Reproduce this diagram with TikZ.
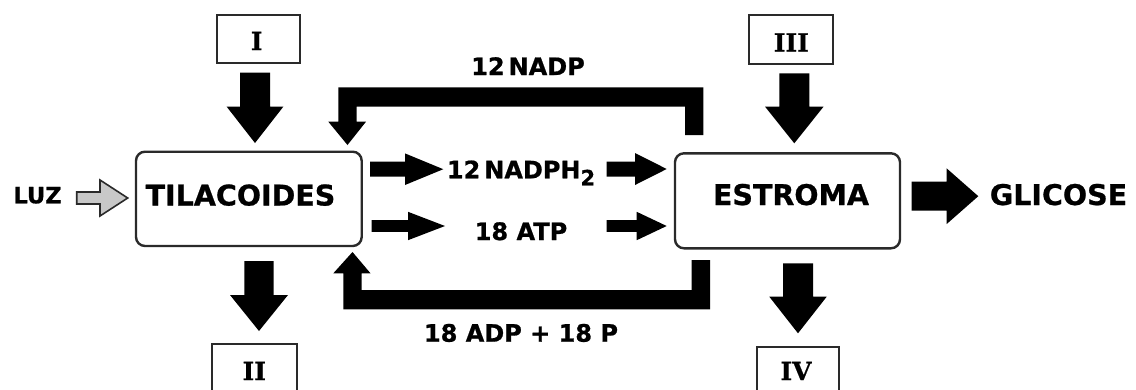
\documentclass[tikz,border=0pt]{standalone}
\usepackage{fontspec}
\setmainfont{DejaVu Sans}[BoldFeatures={FakeBold=0.8}]
\newfontfamily\numfont{DejaVu Serif}[BoldFeatures={FakeBold=0.6}]
\definecolor{boxline}{HTML}{2A2A2A}
\definecolor{luzgray}{HTML}{C8C8C8}
% right-pointing block arrow: x0, head base x, tip x, y centre, shaft half, head half
\newcommand\blkR[6]{\fill[blk] (#1,#4-#5) -- (#2,#4-#5) -- (#2,#4-#6) -- (#3,#4) -- (#2,#4+#6) -- (#2,#4+#5) -- (#1,#4+#5) -- cycle;}
% down-pointing block arrow: x centre, y0, head base y, tip y, shaft half, head half
\newcommand\blkD[6]{\fill[blk] (#1-#5,#2) -- (#1+#5,#2) -- (#1+#5,#3) -- (#1+#6,#3) -- (#1,#4) -- (#1-#6,#3) -- (#1-#5,#3) -- cycle;}
\begin{document}
\begin{tikzpicture}[x=1pt,y=-1pt,
  blk/.style={fill=black},
  lbl/.style={font=\bfseries\fontsize{24}{24}\selectfont, inner sep=0pt, anchor=base},
  big/.style={font=\bfseries\fontsize{28.5}{28.5}\selectfont, inner sep=0pt, anchor=base},
  roman/.style={font=\numfont\bfseries\fontsize{25}{25}\selectfont, inner sep=0pt, anchor=base},
  procbox/.style={draw=boxline, line width=2.4pt, rounded corners=9pt, inner sep=0pt},
  numbox/.style={draw=boxline, line width=2pt, inner sep=0pt}]
\useasboundingbox (0,0) rectangle (1136,389);
\clip (0,0) rectangle (1136,389);

% process boxes
\node[procbox, minimum width=225.7pt, minimum height=94.3pt] (til) at (248.85,198.85) {};
\node[procbox, minimum width=225pt, minimum height=95pt] (est) at (787.5,200.8) {};
\node[big] (tiltxt) at (240.5,205.5) {TILACOIDES};
\node[big] (esttxt) at (791,205) {ESTROMA};
\node[big] (gli) at (1058.5,205) {GLICOSE};

% roman numeral boxes
\node[numbox, minimum width=82.7pt, minimum height=48.3pt] (b1) at (258.65,39.15) {};
\node[numbox, minimum width=84pt, minimum height=49pt] (b3) at (791.3,39.5) {};
\node[numbox, minimum width=84.7pt, minimum height=70pt] (b2) at (254.3,379) {};
\node[numbox, minimum width=81.7pt, minimum height=70pt] (b4) at (798.15,382.3) {};
\node[roman] (t1) at (256.7,50) {I};
\node[roman] (t3) at (791.3,51.5) {III};
\node[roman] (t2) at (254.3,380) {II};
\node[roman] (t4) at (796,380) {IV};

% labels
\node[lbl, font=\bfseries\fontsize{22.5}{22.5}\selectfont] (luz) at (37.5,203.3) {LUZ};
\node[lbl] (nadp) at (528,75) {12\,NADP};
\node[lbl, anchor=base west] (nadph) at (446.7,178.3) {12\,NADPH\raisebox{-7pt}{\fontsize{21}{21}\selectfont 2}};
\node[lbl] (atp) at (521,240) {18 ATP};
\node[lbl] (adp) at (521,341.7) {18 ADP + 18 P};

% LUZ arrow
\draw[fill=luzgray, draw=boxline, line width=1.6pt, line join=miter]
  (76.7,192) -- (100,192) -- (100,180) -- (127.7,198) -- (100,216) -- (100,204) -- (76.7,204) -- cycle;

% vertical block arrows
\blkD{255}{72.7}{106.7}{143}{15}{28.3}
\blkD{794.3}{73.3}{106.7}{143.3}{15}{29.2}
\blkD{259}{261}{295}{331}{14.7}{29}
\blkD{798}{263.3}{296.7}{333.3}{15}{28.7}

% horizontal block arrows
\blkR{911.7}{946.7}{978.3}{196.2}{14.5}{27.8}
\blkR{370}{405}{443.3}{169.2}{7.5}{15.8}
\blkR{606.7}{635}{666.7}{169}{7.5}{16}
\blkR{371.7}{408}{445}{226}{5.8}{14.2}
\blkR{606.7}{636.7}{666.7}{226}{5.8}{14.2}

% feedback: 12 NADP (top)
\fill[blk] (703.3,135) -- (703.3,87.3) -- (338.3,87.3) -- (338.3,121.7) -- (328.3,121.7) -- (347.5,145)
  -- (366,121.7) -- (356.7,121.7) -- (356.7,106.7) -- (685,106.7) -- (685,135) -- cycle;
% feedback: 18 ADP + 18 P (bottom)
\fill[blk] (691.7,260) -- (710,260) -- (710,309.3) -- (343.3,309.3) -- (343.3,273.3) -- (333.3,273.3)
  -- (352.5,252) -- (370.5,273.3) -- (361.7,273.3) -- (361.7,290) -- (691.7,290) -- cycle;
\end{tikzpicture}
\end{document}
